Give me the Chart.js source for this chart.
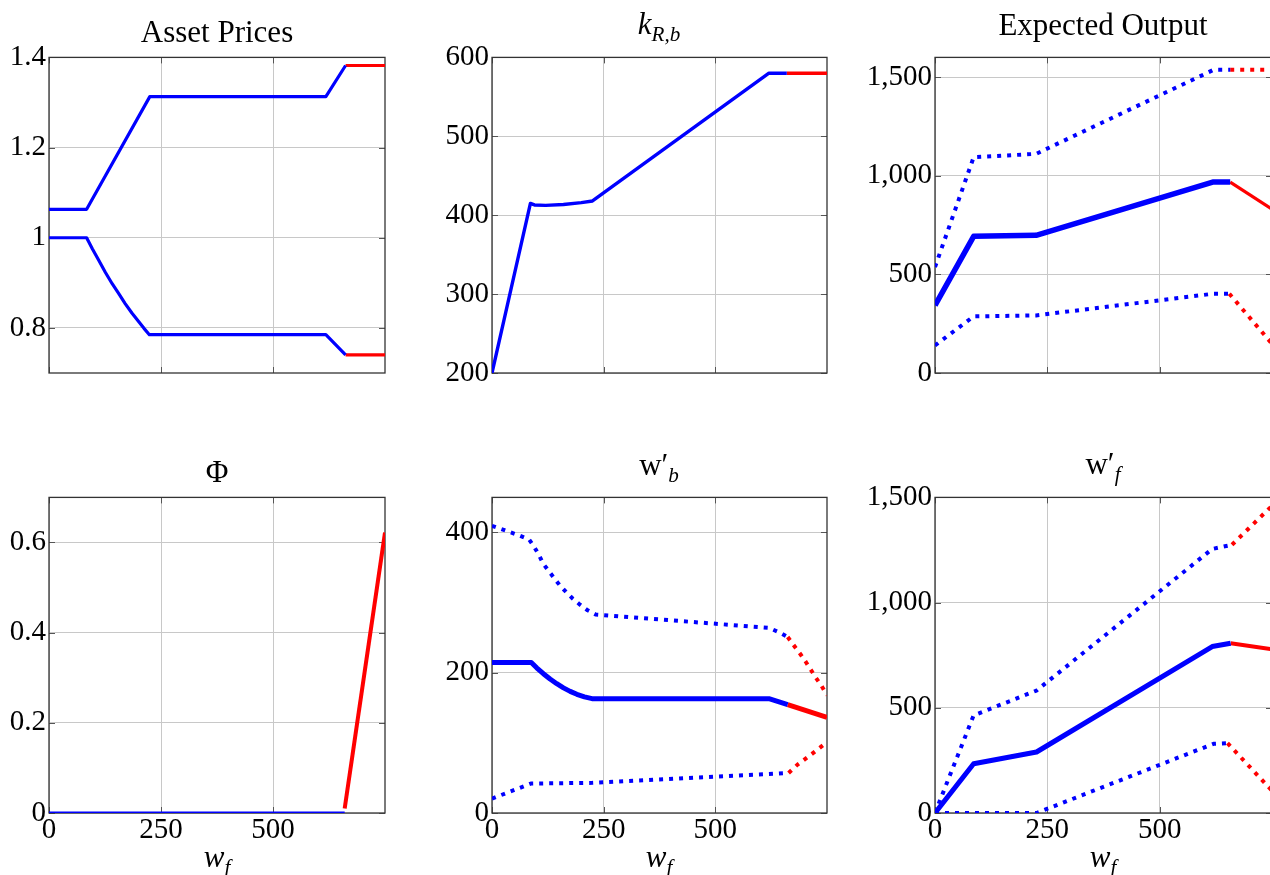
<!DOCTYPE html>
<html>
<head>
<meta charset="utf-8">
<script src="https://cdn.jsdelivr.net/npm/chart.js@4.4.0/dist/chart.umd.min.js"></script>
<style>
html, body { margin:0; padding:0; background:#fff; overflow:hidden; width:1270px; height:875px; position:relative; }
canvas { position:absolute; }
.ttl, .xlab { position:absolute; font-family:"Liberation Serif", serif; font-size:31px; line-height:1; color:#000; white-space:nowrap; transform:translateX(-50%); }
sub { font-size:0.68em; vertical-align:-0.32em; line-height:0; }
</style>
</head>
<body>
<canvas id="c1"></canvas>
<canvas id="c2"></canvas>
<canvas id="c3"></canvas>
<canvas id="c4"></canvas>
<canvas id="c5"></canvas>
<canvas id="c6"></canvas>

<div class="ttl" style="left:217px; top:16px;">Asset Prices</div>
<div class="ttl" style="left:659px; top:8px;"><i>k</i><sub><i>R,b</i></sub></div>
<div class="ttl" style="left:1103px; top:9px;">Expected Output</div>
<div class="ttl" style="left:217px; top:456px;">Φ</div>
<div class="ttl" style="left:659px; top:449px;">w′<sub><i>b</i></sub></div>
<div class="ttl" style="left:1103px; top:448px;">w′<sub><i>f</i></sub></div>
<div class="xlab" style="left:217px; top:841px;"><i>w</i><sub><i>f</i></sub></div>
<div class="xlab" style="left:659px; top:841px;"><i>w</i><sub><i>f</i></sub></div>
<div class="xlab" style="left:1103px; top:841px;"><i>w</i><sub><i>f</i></sub></div>

<script>
var BLUE = '#0000ff';
var RED = '#ff0000';

// shared x axis (w_f)
var xTicks = [0, 250, 500];
var xMax = 750;

// Asset Prices
var priceTicks = [0.8, 1, 1.2, 1.4];
var priceHiBlueX = [0, 84, 225, 618, 662];
var priceHiBlueY = [1.063, 1.063, 1.313, 1.313, 1.382];
var priceHiRedX = [662, 750];
var priceHiRedY = [1.382, 1.382];
var priceLoBlueX = [0, 84, 97, 111, 126, 141, 155, 170, 185, 200, 212, 224, 618, 662];
var priceLoBlueY = [1.0, 1.0, 0.975, 0.950, 0.923, 0.898, 0.877, 0.854, 0.833, 0.814, 0.799, 0.785, 0.785, 0.74];
var priceLoRedX = [662, 750];
var priceLoRedY = [0.74, 0.74];

// k_{R,b}
var kTicks = [200, 300, 400, 500, 600];
var kBlueX = [0, 86, 95, 120, 160, 200, 225, 620, 660];
var kBlueY = [200, 415, 413, 412.5, 413.5, 416, 418, 580, 580];
var kRedX = [660, 750];
var kRedY = [580, 580];

// Expected Output
var outTicks = [0, 500, 1000, 1500];
var outMidBlueX = [0, 86, 225, 618, 657];
var outMidBlueY = [343, 693, 698, 968, 968];
var outMidRedX = [657, 750];
var outMidRedY = [968, 830];
var outHiBlueX = [0, 86, 225, 620, 657];
var outHiBlueY = [537, 1094, 1111, 1537, 1537];
var outHiRedX = [657, 750];
var outHiRedY = [1537, 1537];
var outLoBlueX = [0, 86, 225, 620, 655];
var outLoBlueY = [140, 287, 292, 402, 402];
var outLoRedX = [655, 750];
var outLoRedY = [402, 148];

// Phi
var phiTicks = [0, 0.2, 0.4, 0.6];
var phiBlueX = [0, 660];
var phiBlueY = [0, 0];
var phiRedX = [660, 750];
var phiRedY = [0.01, 0.622];

// w'_b
var wbTicks = [0, 200, 400];
var wbMidBlueX = [0, 88, 100, 115, 130, 145, 160, 175, 190, 207, 224, 620, 662];
var wbMidBlueY = [214.5, 214.5, 207, 198.6, 191, 184.3, 178.4, 173.4, 169.2, 165.6, 163, 163, 154.5];
var wbMidRedX = [662, 750];
var wbMidRedY = [154.5, 136.5];
var wbHiBlueX = [0, 62, 83, 94, 105, 114, 127, 139, 152, 166, 181, 197, 214, 232, 620, 645, 662];
var wbHiBlueY = [409.5, 395.5, 390, 380, 368, 356, 345, 335, 324.5, 315, 305.5, 297, 289, 283, 264, 257, 251];
var wbHiRedX = [662, 678, 691, 703, 714, 725, 737, 750];
var wbHiRedY = [251, 237, 226, 215, 204, 193, 182, 168];
var wbLoBlueX = [0, 87, 225, 664];
var wbLoBlueY = [20.5, 42, 43, 57];
var wbLoRedX = [664, 684, 700, 717, 733, 750];
var wbLoRedY = [57, 69, 76.5, 84.6, 92.6, 101];

// w'_f
var wfTicks = [0, 500, 1000, 1500];
var wfMidBlueX = [0, 86, 226, 617, 658];
var wfMidBlueY = [0, 234, 290, 791, 807];
var wfMidRedX = [658, 750];
var wfMidRedY = [807, 778];
var wfHiBlueX = [0, 86, 226, 617, 661];
var wfHiBlueY = [0, 464, 582, 1255, 1275];
var wfHiRedX = [661, 750];
var wfHiRedY = [1275, 1460];
var wfLoBlueX = [0, 226, 620, 651];
var wfLoBlueY = [0, 0, 329, 332];
var wfLoRedX = [651, 750];
var wfLoRedY = [332, 106];

var tickFont = { family: '"Liberation Serif", serif', size: 29 };

// box round the plot area, with small inner ticks like pgfplots
var frame = {
  id: 'frame',
  beforeDatasetsDraw: function(chart) {
    var a = chart.chartArea, ctx = chart.ctx;
    ctx.save();
    ctx.strokeStyle = '#555';
    ctx.lineWidth = 1;
    ctx.beginPath();
    chart.scales.x.ticks.forEach(function(t) {
      var px = Math.round(chart.scales.x.getPixelForValue(t.value)) + 0.5;
      ctx.moveTo(px, a.bottom); ctx.lineTo(px, a.bottom - 6);
      ctx.moveTo(px, a.top); ctx.lineTo(px, a.top + 6);
    });
    chart.scales.y.ticks.forEach(function(t) {
      var py = Math.round(chart.scales.y.getPixelForValue(t.value)) + 0.5;
      ctx.moveTo(a.left, py); ctx.lineTo(a.left + 6, py);
      ctx.moveTo(a.right, py); ctx.lineTo(a.right - 6, py);
    });
    ctx.stroke();
    ctx.strokeStyle = '#333';
    ctx.lineWidth = 1.3;
    ctx.strokeRect(a.left, a.top, a.right - a.left, a.bottom - a.top);
    ctx.restore();
  }
};

function line(xs, ys, color, width, dotted) {
  return {
    data: xs.map(function(v, i) { return { x: v, y: ys[i] }; }),
    borderColor: color,
    borderWidth: width,
    borderDash: dotted ? [4, 6] : [],
    borderCapStyle: 'butt',
    borderJoinStyle: 'round',
    pointRadius: 0,
    fill: false,
    tension: 0
  };
}

function makeChart(id, box, datasets, yMin, yMax, yTicks, showX) {
  var canvas = document.getElementById(id);
  canvas.width = box[2] - box[0] + 90;
  canvas.height = box[3] - box[1] + 80;
  canvas.style.left = (box[0] - 80) + 'px';
  canvas.style.top = (box[1] - 20) + 'px';

  return new Chart(canvas, {
    type: 'line',
    data: { datasets: datasets },
    options: {
      responsive: false,
      animation: false,
      devicePixelRatio: 1,
      layout: { padding: { top: 20, right: 10, left: 0, bottom: 0 } },
      plugins: { legend: { display: false }, tooltip: { enabled: false } },
      scales: {
        x: {
          type: 'linear', min: 0, max: xMax,
          afterBuildTicks: function(s) { s.ticks = xTicks.map(function(v) { return { value: v }; }); },
          afterFit: function(s) { s.height = 60; },
          grid: { color: '#c8c8c8', lineWidth: 1, drawTicks: false },
          border: { display: false },
          ticks: { display: showX, padding: 0, color: '#000', font: tickFont,
                   callback: function(v) { return v.toLocaleString('en-US'); } }
        },
        y: {
          type: 'linear', min: yMin, max: yMax,
          afterBuildTicks: function(s) { s.ticks = yTicks.map(function(v) { return { value: v }; }); },
          afterFit: function(s) { s.width = 80; },
          grid: { color: '#c8c8c8', lineWidth: 1, drawTicks: false },
          border: { display: false },
          ticks: { padding: 3, color: '#000', font: tickFont,
                   callback: function(v) { return v.toLocaleString('en-US'); } }
        }
      }
    },
    plugins: [frame]
  });
}

window.onload = function() {
  makeChart('c1', [49, 57, 385, 373], [
    line(priceHiBlueX, priceHiBlueY, BLUE, 3.2),
    line(priceHiRedX, priceHiRedY, RED, 3.2),
    line(priceLoBlueX, priceLoBlueY, BLUE, 3.2),
    line(priceLoRedX, priceLoRedY, RED, 3.2)
  ], 0.7, 1.4, priceTicks, false);

  makeChart('c2', [492, 57, 827, 373], [
    line(kBlueX, kBlueY, BLUE, 3.4),
    line(kRedX, kRedY, RED, 3.4)
  ], 200, 600, kTicks, false);

  makeChart('c3', [935, 57, 1272, 373], [
    line(outHiBlueX, outHiBlueY, BLUE, 4, true),
    line(outHiRedX, outHiRedY, RED, 4, true),
    line(outLoBlueX, outLoBlueY, BLUE, 4, true),
    line(outLoRedX, outLoRedY, RED, 4, true),
    line(outMidBlueX, outMidBlueY, BLUE, 5.5),
    line(outMidRedX, outMidRedY, RED, 3.2)
  ], 0, 1600, outTicks, false);

  makeChart('c4', [49, 497, 385, 813], [
    line(phiBlueX, phiBlueY, BLUE, 3),
    line(phiRedX, phiRedY, RED, 4)
  ], 0, 0.7, phiTicks, true);

  makeChart('c5', [492, 497, 827, 813], [
    line(wbHiBlueX, wbHiBlueY, BLUE, 4, true),
    line(wbHiRedX, wbHiRedY, RED, 4, true),
    line(wbLoBlueX, wbLoBlueY, BLUE, 4, true),
    line(wbLoRedX, wbLoRedY, RED, 4, true),
    line(wbMidBlueX, wbMidBlueY, BLUE, 5),
    line(wbMidRedX, wbMidRedY, RED, 5)
  ], 0, 450, wbTicks, true);

  makeChart('c6', [935, 497, 1272, 813], [
    line(wfHiBlueX, wfHiBlueY, BLUE, 4, true),
    line(wfHiRedX, wfHiRedY, RED, 4, true),
    line(wfLoBlueX, wfLoBlueY, BLUE, 4, true),
    line(wfLoRedX, wfLoRedY, RED, 4, true),
    line(wfMidBlueX, wfMidBlueY, BLUE, 5),
    line(wfMidRedX, wfMidRedY, RED, 4)
  ], 0, 1500, wfTicks, true);
};
</script>
</body>
</html>
